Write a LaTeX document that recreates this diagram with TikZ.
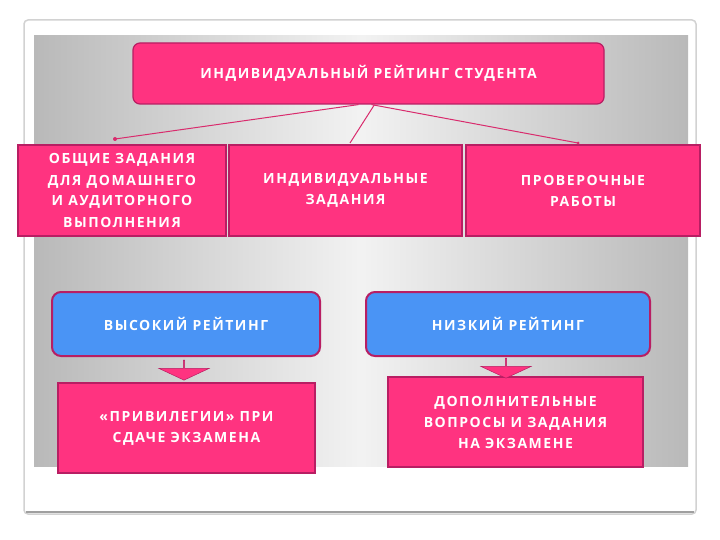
\documentclass[tikz,border=0pt]{standalone}
\usepackage{fontspec}
\setmainfont{Open Sans}[LetterSpace=11]
\usetikzlibrary{shapes.arrows}
\definecolor{pk}{HTML}{FF3380}
\definecolor{pkd}{HTML}{B81E63}
\definecolor{bl}{HTML}{4A94F5}
\tikzset{
 pbox/.style={draw=pkd,line width=1.2pt,fill=pk,text=white,font=\bfseries\fontsize{14}{21}\selectfont,align=center,inner sep=0pt},
 rbox/.style={pbox,rounded corners=7pt},
 bbox/.style={pbox,fill=bl,rounded corners=9pt,line width=2pt},
 conn/.style={pk!85!black,line width=1pt},
 darr/.style={single arrow,shape border rotate=270,fill=pk,draw=pkd,line width=0.5pt,minimum width=50pt,single arrow head extend=11pt,single arrow tip angle=130,minimum height=20pt,inner sep=0pt}
}
\begin{document}
\begin{tikzpicture}[x=1pt,y=-1pt]
\fill[white] (0,0) rectangle (720,540);
\useasboundingbox (0,0) rectangle (720,540);
\draw[gray!35,line width=1.5pt,rounded corners=4pt] (24,20) rectangle (696,514);
\draw[gray!75,line width=2pt] (26,512) -- (694,512);
\shade[left color=gray!55,right color=gray!55,middle color=gray!10] (34,36) rectangle (688,466);
\node[rbox,minimum width=471pt,minimum height=61pt] (top) at (368.5,73.5) {ИНДИВИДУАЛЬНЫЙ РЕЙТИНГ СТУДЕНТА};
\node[pbox,minimum width=208pt,minimum height=91pt] (a) at (122,190.5) {ОБЩИЕ ЗАДАНИЯ\\ДЛЯ ДОМАШНЕГО\\И АУДИТОРНОГО\\ВЫПОЛНЕНИЯ};
\node[pbox,minimum width=233pt,minimum height=91pt] (b) at (345.5,190.5) {ИНДИВИДУАЛЬНЫЕ\\ЗАДАНИЯ};
\node[pbox,minimum width=234pt,minimum height=91pt] (c) at (583,190.5) {ПРОВЕРОЧНЫЕ\\РАБОТЫ};
\coordinate (ta) at (115,139);
\coordinate (tb) at (350,143);
\coordinate (tc) at (578,143);
\draw[conn] ([xshift=-10pt]top.south) -- (ta);
\draw[conn] ([xshift=6pt]top.south) -- (tb);
\draw[conn] ([xshift=3pt]top.south) -- (tc);
\fill[pk!85!black] (ta) circle (2pt) (tc) circle (1.5pt);
\node[bbox,minimum width=268pt,minimum height=64pt] (h) at (186,324) {ВЫСОКИЙ РЕЙТИНГ};
\node[bbox,minimum width=284pt,minimum height=64pt] (l) at (508,324) {НИЗКИЙ РЕЙТИНГ};
\node[pbox,minimum width=257pt,minimum height=90pt] (hp) at (186.5,428) {«ПРИВИЛЕГИИ» ПРИ\\СДАЧЕ ЭКЗАМЕНА};
\node[pbox,minimum width=255pt,minimum height=90pt] (lp) at (515.5,422) {ДОПОЛНИТЕЛЬНЫЕ\\ВОПРОСЫ И ЗАДАНИЯ\\НА ЭКЗАМЕНЕ};
\node[darr] (ah) at (184,370) {};
\node[darr] (al) at (506,368) {};
\end{tikzpicture}
\end{document}
